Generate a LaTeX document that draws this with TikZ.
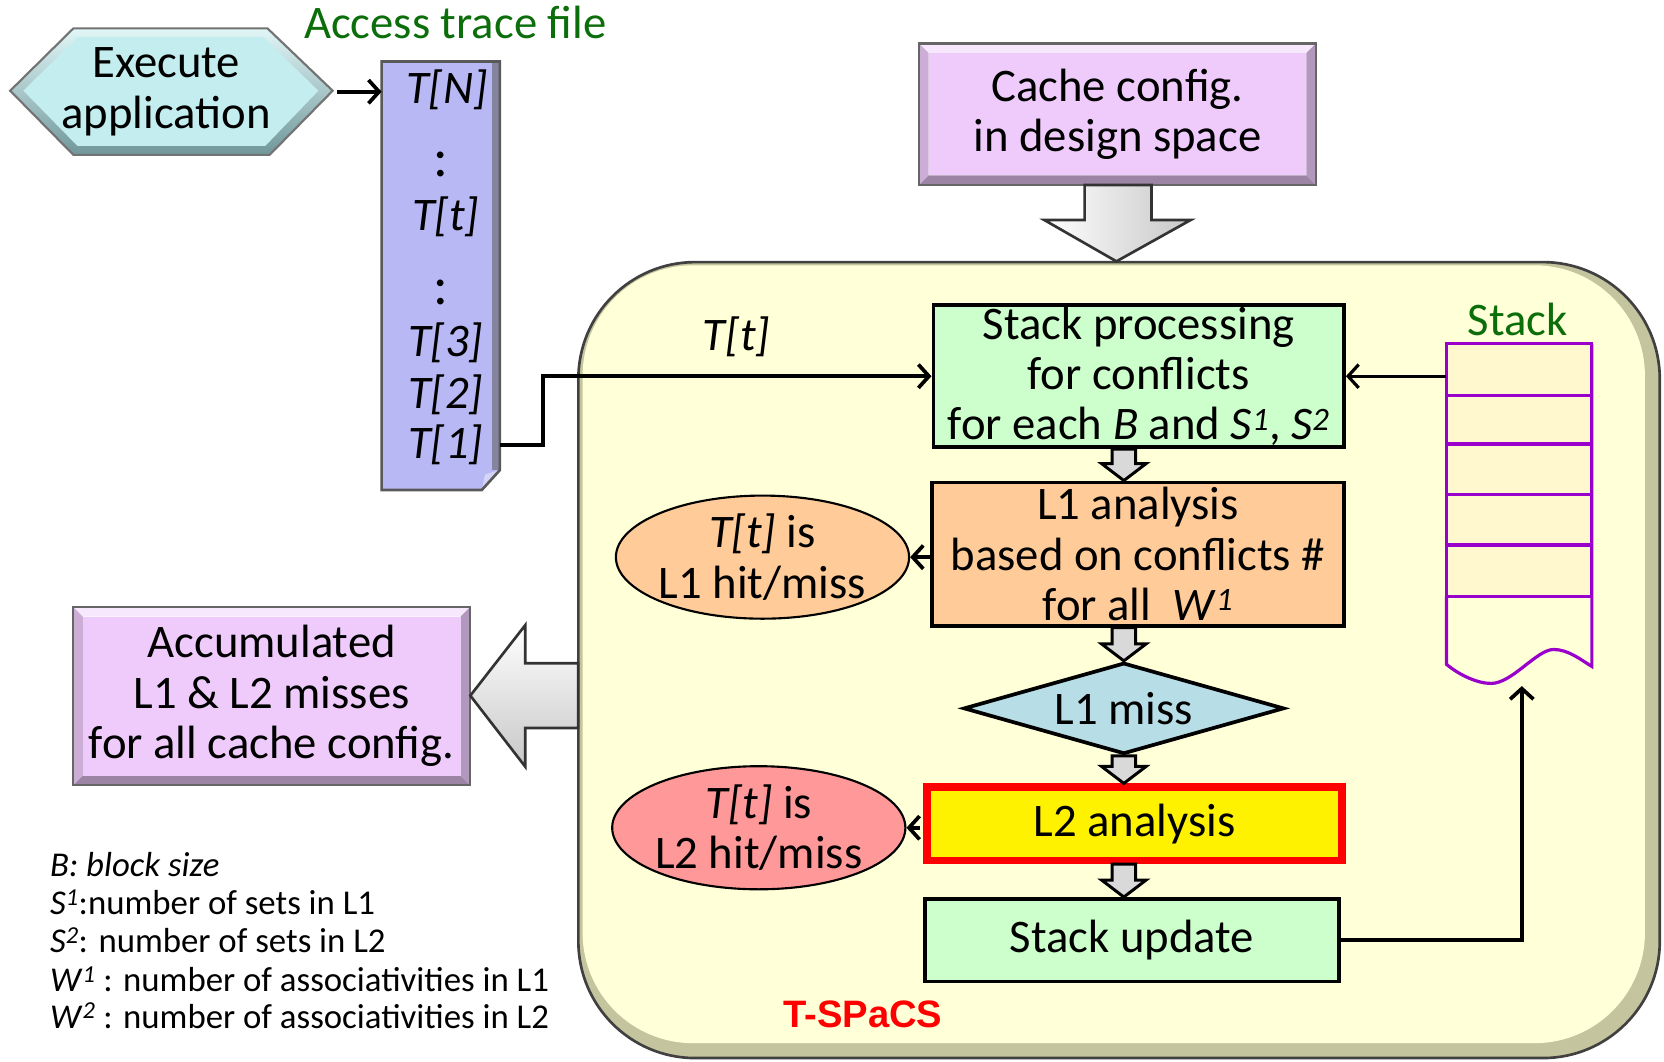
\documentclass[tikz,border=0pt]{standalone}
\usepackage{fontspec}
\setmainfont{Carlito}
\newfontfamily\spacsfont{Liberation Sans}
\usetikzlibrary{arrows.meta,shapes.geometric,calc}

\definecolor{hexface}{HTML}{C3EDEF}
\definecolor{hexedge}{HTML}{8DBDC0}
\definecolor{tracefill}{HTML}{B8B8F4}
\definecolor{violetface}{HTML}{EFCBFC}
\definecolor{regionfill}{HTML}{FFFFD8}
\definecolor{regionshade}{HTML}{C4C49E}
\definecolor{procgreen}{HTML}{CCFFCC}
\definecolor{lioneorange}{HTML}{FFCC99}
\definecolor{litwopink}{HTML}{FF9999}
\definecolor{missblue}{HTML}{B7DEE6}
\definecolor{stackpurple}{HTML}{9A00CC}
\definecolor{stackcell}{HTML}{FFF8CF}
\definecolor{labelgreen}{HTML}{0B6E0B}
\definecolor{arrowgray}{HTML}{D9D9D9}

\tikzset{
  mainfont/.style={font=\fontsize{44}{47.5}\selectfont},
  legendfont/.style={font=\fontsize{32.8}{36}\selectfont},
  box/.style={draw=black, line width=3.5pt, inner sep=0pt, align=center, mainfont},
  plain/.style={inner sep=0pt, align=center, mainfont},
  conn/.style={line width=3.5pt, -{Straight Barb[length=10pt,width=22pt]}},
  flowarrow/.style={fill=arrowgray, draw=black, line width=2.8pt, line join=miter},
  bigarrow/.style={draw=black!80, line width=2.5pt, line join=miter},
}

% bevelled rectangle: corners (#1,#2) and (#3,#4), face colour #5, bevel depth #6
\newcommand\bevelrect[6]{%
  \fill[#5!45!white] (#1,#2) -- (#3,#2) -- (#3-#6,#2+#6) -- (#1+#6,#2+#6) -- cycle;
  \fill[#5!85!black] (#1,#2) -- (#1+#6,#2+#6) -- (#1+#6,#4-#6) -- (#1,#4) -- cycle;
  \fill[#5!75!black] (#3,#2) -- (#3,#4) -- (#3-#6,#4-#6) -- (#3-#6,#2+#6) -- cycle;
  \fill[#5!65!black] (#1,#4) -- (#3,#4) -- (#3-#6,#4-#6) -- (#1+#6,#4-#6) -- cycle;
  \fill[#5] (#1+#6,#2+#6) rectangle (#3-#6,#4-#6);
  \draw[black!60, line width=2pt] (#1,#2) rectangle (#3,#4);
}

% small grey block arrow from the bottom of node #1 to the top of node #2,
% placed on the vertical through node #3
\newcommand\stepdown[3]{%
  \path (#3.center |- #1.south) coordinate (sa) (#3.center |- #2.north) coordinate (sb);
  \draw[flowarrow] ($(sa)+(-11,0)$) -- ($(sb)+(-11,-16)$) -- ($(sb)+(-21,-16)$)
    -- (sb) -- ($(sb)+(21,-16)$) -- ($(sb)+(11,-16)$) -- ($(sa)+(11,0)$) -- cycle;
}

\begin{document}
\begin{tikzpicture}[x=1pt,y=-1pt]
\useasboundingbox (0,0) rectangle (1568,1000);

% ---------- T-SPaCS region ----------
\fill[regionshade, rounded corners=110pt] (545,247) rectangle (1564,997);
\fill[regionfill, rounded corners=104pt] (549,250) rectangle (1550,983);
\draw[black!75, line width=2.5pt, rounded corners=110pt] (545,247) rectangle (1564,997);
\node[inner sep=0pt, minimum width=1019pt, minimum height=750pt] (spacs) at (1054.5,622) {};

% ---------- execute application (hexagon) ----------
\shade[top color=hexface!50!white, bottom color=hexedge!80!black]
  (9.6,85.5) -- (69.2,26.7) -- (252,26.7) -- (313.5,85.5) -- (254,146) -- (69.2,146) -- cycle;
\fill[hexface] (22,85.5) -- (73,35) -- (248,35) -- (300,85.5) -- (250,137.5) -- (73,137.5) -- cycle;
\draw[black!55, line width=2pt, line join=miter]
  (9.6,85.5) -- (69.2,26.7) -- (252,26.7) -- (313.5,85.5) -- (254,146) -- (69.2,146) -- cycle;
\node[plain, minimum width=304pt, minimum height=119pt] (hex) at (161.5,86.4) {\hspace*{-10pt}Execute\\\hspace*{-10pt}application};

% ---------- access trace file ----------
\node[plain, text=labelgreen, anchor=base] (tracelabel) at (429,36) {Access trace file};
\fill[tracefill] (359.6,58) -- (471,58) -- (471,443) -- (454,461.7) -- (359.6,461.7) -- cycle;
\fill[tracefill!55!black!80] (464,59) rectangle (470,443);
\fill[tracefill!60!white] (454,461.7) -- (471,443) -- (457,447) -- cycle;
\draw[black!65, line width=2.5pt, line join=miter]
  (359.6,58) -- (471,58) -- (471,443) -- (454,461.7) -- (359.6,461.7) -- cycle;
\node[inner sep=0pt, minimum width=111pt, minimum height=404pt] (trace) at (415.3,260) {};
\node[plain, anchor=base] (tN) at (421,97.4) {\textit{T[N]}};
\node[plain, anchor=base, font=\fontsize{52}{52}\selectfont] (dA) at (415,166) {:};
\node[plain, anchor=base] (tt) at (420,216.8) {\textit{T[t]}};
\node[plain, anchor=base, font=\fontsize{52}{52}\selectfont] (dB) at (415,287) {:};
\node[plain, anchor=base] (t3) at (420,336) {\textit{T[3]}};
\node[plain, anchor=base] (t2) at (420,384.8) {\textit{T[2]}};
\node[plain, anchor=base] (t1) at (420,432) {\textit{T[1]}};

\draw[conn, shorten <=4pt] (hex.east) -- (hex.east -| trace.west);

% ---------- cache configurations ----------
\bevelrect{866}{41}{1240}{174.3}{violetface}{9}
\node[plain, minimum width=374pt, minimum height=133pt] (cache) at (1053,107.6) {Cache config.\\in design space};
\shade[left color=white, right color=black!22, bigarrow]
  ($(cache.south)+(-31,0)$) -- ($(cache.south)+(-31,33)$) -- ($(cache.south)+(-69,33)$)
  -- ($(cache.south)+(-1,72)$) -- ($(cache.south)+(69,33)$) -- ($(cache.south)+(32,33)$)
  -- ($(cache.south)+(32,0)$) -- cycle;

% ---------- accumulated results ----------
\bevelrect{69}{572}{443}{740}{violetface}{9}
\node[plain, minimum width=374pt, minimum height=168pt] (acc) at (256,656) {Accumulated\\L1 \& L2 misses\\for all cache config.};
\shade[top color=white, bottom color=black!22, bigarrow]
  (spacs.west |- 0,625) -- (495,625) -- (495,589) -- (acc.east |- 0,655.5) -- (495,722.5)
  -- (495,686) -- (spacs.west |- 0,686) -- cycle;

% ---------- flow inside T-SPaCS ----------
\node[box, fill=procgreen, minimum width=387pt, minimum height=134pt] (sp) at (1073,354.5)
  {Stack processing\\for conflicts\\for each \textit{B} and \textit{S}\textsuperscript{\textit{1}}, \textit{S}\textsuperscript{\textit{2}}};
\node[box, fill=lioneorange, minimum width=388pt, minimum height=135pt] (l1) at (1072.3,522.1)
  {L1 analysis\\based on conflicts \#\\for all~ \textit{W}\textsuperscript{\textit{1}}};
\node[box, ellipse, line width=2pt, fill=lioneorange, minimum width=258pt, minimum height=116pt] (hit1) at (718.5,525)
  {\textit{T[t]} is\\L1 hit/miss};
\node[box, diamond, aspect=3.5, fill=missblue, minimum width=302pt, minimum height=86pt] (miss) at (1059,667.5) {L1 miss};
\node[box, draw=red, line width=7pt, fill=yellow, minimum width=391pt, minimum height=69pt] (l2) at (1069,776.2) {L2 analysis};
\node[box, ellipse, line width=2pt, fill=litwopink, minimum width=259pt, minimum height=116pt] (hit2) at (715,780)
  {\textit{T[t]} is\\L2 hit/miss};
\node[box, fill=procgreen, minimum width=390pt, minimum height=78pt] (su) at (1066.5,886) {Stack update};

\stepdown{sp}{l1}{miss}
\stepdown{l1}{miss}{miss}
\stepdown{miss}{l2}{miss}
\stepdown{l2}{su}{miss}

\draw[conn] (l1.west |- hit1.east) -- (hit1.east);
\draw[conn, shorten <=3.5pt] (l2.west |- hit2.east) -- (hit2.east);

% trace entry fed into stack processing
\node[plain, anchor=base] (ttlabel) at (694,330) {\textit{T[t]}};
\draw[conn] (trace.east |- t1.center) -- (511.6,0 |- t1.center) |- (sp.west);

% ---------- stack ----------
\node[plain, text=labelgreen, anchor=base] (stacklabel) at (1430,315.7) {Stack};
\fill[stackcell] (1363,324) rectangle (1500,562);
\draw[stackpurple, line width=3pt]
  (1363,562) -- (1363,626) .. controls (1375,636) and (1392,644) .. (1405,644)
  .. controls (1425,644) and (1448,612) .. (1464,612)
  .. controls (1478,612) and (1490,622) .. (1500,628) -- (1500,324);
\draw[stackpurple, line width=3pt] (1363,324) rectangle (1500,562);
\foreach \yy in {372.8,418.4,466,513.6} \draw[stackpurple, line width=3pt] (1363,\yy) -- (1500,\yy);
\node[inner sep=0pt, minimum width=137pt, minimum height=302pt] (stack) at (1431.5,475) {};
\coordinate (stackbottom) at (1434,646.5);

\draw[line width=3pt, -{Straight Barb[length=10pt,width=22pt]}] (stack.west |- sp.east) -- (sp.east);
\draw[conn] (su.east) -| (stackbottom);

% ---------- region name ----------
\node[inner sep=0pt, text=red, font=\spacsfont\bfseries\fontsize{36}{40}\selectfont] (spacsname) at (813,956) {T-SPaCS};

% ---------- legend ----------
\node[inner sep=0pt, legendfont, anchor=base west] (lgB) at (47,826) {\textit{B: block size}};
\node[inner sep=0pt, legendfont, anchor=base west] (lgSa) at (47,862) {\textit{S}\textsuperscript{\textit{1}}:number of sets in L1};
\node[inner sep=0pt, legendfont, anchor=base west] (lgSb) at (47,898) {\textit{S}\textsuperscript{\textit{2}}: number of sets in L2};
\node[inner sep=0pt, legendfont, anchor=base west] (lgWa) at (47,934.5) {\textit{W}\textsuperscript{\textit{1}} : number of associativities in L1};
\node[inner sep=0pt, legendfont, anchor=base west] (lgWb) at (47,969) {\textit{W}\textsuperscript{\textit{2}} : number of associativities in L2};
\end{tikzpicture}
\end{document}
